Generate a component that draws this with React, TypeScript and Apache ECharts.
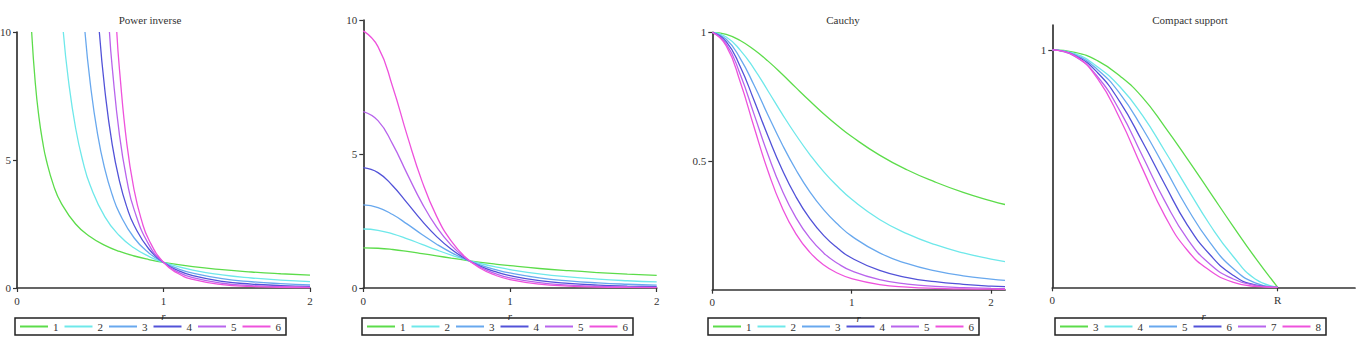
import React, { useEffect, useRef } from "react";
import * as echarts from "echarts";

const FONT = "'Liberation Serif', 'DejaVu Serif', serif";
const COLORS = ["#5cdc4a", "#6ee8ea", "#68a8ee", "#5252d8", "#b864ec", "#ee52dc"];

const names16 = ["1", "2", "3", "4", "5", "6"];
const names38 = ["3", "4", "5", "6", "7", "8"];

// ---- Panel 1: Power inverse ([r, value] pairs) ----
const pw1 = [[0.1, 10], [0.125, 8], [0.15, 6.667], [0.175, 5.714], [0.2, 5], [0.25, 4], [0.3, 3.333], [0.4, 2.5], [0.5, 2], [0.6, 1.667], [0.7, 1.429], [0.8, 1.25], [0.9, 1.111], [1, 1], [1.2, 0.833], [1.4, 0.714], [1.6, 0.625], [1.8, 0.556], [2, 0.5]];
const pw2 = [[0.316, 10], [0.35, 8.163], [0.4, 6.25], [0.45, 4.938], [0.5, 4], [0.6, 2.778], [0.7, 2.041], [0.8, 1.563], [0.9, 1.235], [1, 1], [1.2, 0.694], [1.4, 0.51], [1.6, 0.391], [1.8, 0.309], [2, 0.25]];
const pw3 = [[0.464, 10], [0.5, 8], [0.55, 6.011], [0.6, 4.63], [0.65, 3.641], [0.7, 2.915], [0.8, 1.953], [0.9, 1.372], [1, 1], [1.1, 0.751], [1.2, 0.579], [1.4, 0.364], [1.6, 0.244], [1.8, 0.171], [2, 0.125]];
const pw4 = [[0.562, 10], [0.6, 7.716], [0.65, 5.602], [0.7, 4.165], [0.75, 3.16], [0.8, 2.441], [0.9, 1.524], [1, 1], [1.1, 0.683], [1.2, 0.482], [1.4, 0.26], [1.6, 0.153], [1.8, 0.095], [2, 0.0625]];
const pw5 = [[0.631, 10], [0.65, 8.618], [0.7, 5.95], [0.75, 4.214], [0.8, 3.052], [0.9, 1.694], [1, 1], [1.1, 0.621], [1.2, 0.402], [1.4, 0.186], [1.6, 0.095], [1.8, 0.053], [2, 0.031]];
const pw6 = [[0.681, 10], [0.7, 8.5], [0.75, 5.619], [0.8, 3.815], [0.85, 2.651], [0.9, 1.882], [1, 1], [1.1, 0.564], [1.2, 0.335], [1.4, 0.133], [1.6, 0.06], [1.8, 0.029], [2, 0.0156]];

// ---- Panel 2 (untitled) ----
const r2 = [0, 0.1, 0.2, 0.3, 0.4, 0.5, 0.6, 0.7, 0.8, 0.9, 1, 1.2, 1.4, 1.6, 1.8, 2];
const sm1 = [1.499, 1.483, 1.436, 1.367, 1.286, 1.2, 1.115, 1.034, 0.96, 0.893, 0.832, 0.728, 0.645, 0.577, 0.521, 0.474];
const sm2 = [2.201, 2.154, 2.023, 1.837, 1.628, 1.42, 1.228, 1.059, 0.914, 0.791, 0.688, 0.528, 0.414, 0.332, 0.271, 0.225];
const sm3 = [3.098, 3.001, 2.741, 2.383, 1.997, 1.635, 1.321, 1.062, 0.854, 0.69, 0.561, 0.379, 0.264, 0.19, 0.14, 0.106];
const sm4 = [4.489, 4.304, 3.815, 3.166, 2.504, 1.918, 1.445, 1.081, 0.809, 0.608, 0.462, 0.274, 0.169, 0.109, 0.073, 0.05];
const sm5 = [6.582, 6.245, 5.367, 4.25, 3.167, 2.269, 1.59, 1.106, 0.769, 0.539, 0.381, 0.198, 0.109, 0.063, 0.038, 0.024];
const sm6 = [9.595, 9.008, 7.512, 5.676, 3.988, 2.673, 1.745, 1.128, 0.73, 0.476, 0.314, 0.143, 0.07, 0.036, 0.02, 0.011];

// ---- Panel 3: Cauchy ----
const r3 = [0, 0.1, 0.2, 0.3, 0.4, 0.5, 0.6, 0.7, 0.8, 0.9, 1, 1.2, 1.4, 1.6, 1.8, 2, 2.1];
const ca1 = [1, 0.992, 0.968, 0.932, 0.888, 0.838, 0.785, 0.733, 0.683, 0.637, 0.595, 0.523, 0.465, 0.418, 0.378, 0.345, 0.331];
const ca2 = [1, 0.982, 0.931, 0.858, 0.772, 0.684, 0.601, 0.525, 0.458, 0.401, 0.351, 0.273, 0.217, 0.175, 0.143, 0.119, 0.109];
const ca3 = [1, 0.973, 0.899, 0.794, 0.678, 0.566, 0.466, 0.38, 0.31, 0.254, 0.208, 0.143, 0.101, 0.073, 0.054, 0.041, 0.036];
const ca4 = [1, 0.964, 0.867, 0.735, 0.596, 0.468, 0.361, 0.276, 0.21, 0.161, 0.123, 0.075, 0.047, 0.031, 0.021, 0.014, 0.012];
const ca5 = [1, 0.955, 0.837, 0.681, 0.524, 0.387, 0.28, 0.2, 0.142, 0.102, 0.073, 0.039, 0.022, 0.013, 0.008, 0.005, 0.004];
const ca6 = [1, 0.947, 0.808, 0.631, 0.46, 0.32, 0.217, 0.145, 0.096, 0.064, 0.043, 0.02, 0.01, 0.005, 0.003, 0.002, 0.001];

// ---- Panel 4: Compact support (r in units of R) ----
const r4 = [0, 0.1, 0.2, 0.3, 0.4, 0.5, 0.6, 0.7, 0.8, 0.9, 1];
const cs3 = [1, 0.99, 0.955, 0.89, 0.8, 0.675, 0.54, 0.4, 0.26, 0.125, 0];
const cs4 = [1, 0.984, 0.929, 0.845, 0.724, 0.573, 0.416, 0.2625, 0.133, 0.035, 0];
const cs5 = [1, 0.98, 0.9175, 0.816, 0.67, 0.502, 0.332, 0.188, 0.081, 0.019, 0];
const cs6 = [1, 0.9765, 0.905, 0.781, 0.613, 0.432, 0.261, 0.137, 0.052, 0.01, 0];
const cs7 = [1, 0.973, 0.888, 0.743, 0.553, 0.362, 0.203, 0.097, 0.036, 0.0085, 0];
const cs8 = [1, 0.975, 0.88, 0.71, 0.5, 0.3, 0.155, 0.07, 0.022, 0.004, 0];

const zipXY = (xs: number[], ys: number[]) => xs.map((x, i) => [x, ys[i]]);

const AXIS_COLOR = "#333";
const LABEL_STYLE = { fontSize: 11, color: "#333", fontFamily: FONT };

function buildOption(cfg: any) {
  return {
    animation: false,
    textStyle: { fontFamily: FONT },
    graphic: cfg.title
      ? [
          {
            type: "text",
            x: cfg.titleX,
            y: 20,
            style: {
              text: cfg.title,
              font: `11px ${FONT}`,
              fill: "#333",
              textAlign: "center",
              textVerticalAlign: "middle",
              align: "center",
              verticalAlign: "middle",
            },
          },
        ]
      : [],
    grid: {
      left: cfg.grid[0],
      top: cfg.grid[1],
      width: cfg.grid[2],
      height: cfg.grid[3],
      containLabel: false,
      outerBoundsMode: "none",
    },
    xAxis: {
      type: "value",
      min: cfg.xMin,
      max: cfg.xMax,
      name: "r",
      nameLocation: "middle",
      nameGap: 20,
      nameTextStyle: { ...LABEL_STYLE, fontStyle: "italic" },
      axisLine: { show: true, onZero: false, lineStyle: { color: AXIS_COLOR, width: 1.7 } },
      axisTick: { show: true, length: 4, customValues: cfg.xTicks, lineStyle: { color: AXIS_COLOR, width: 1.2 } },
      axisLabel: { show: true, customValues: cfg.xTicks, formatter: cfg.xFormat, margin: 7, ...LABEL_STYLE },
      splitLine: { show: false },
    },
    yAxis: {
      type: "value",
      min: cfg.yMin,
      max: cfg.yMax,
      axisLine: { show: true, onZero: false, lineStyle: { color: AXIS_COLOR, width: 1.7 } },
      axisTick: { show: true, length: 4, customValues: cfg.yTicks, lineStyle: { color: AXIS_COLOR, width: 1.2 } },
      axisLabel: { show: true, customValues: cfg.yTicks, margin: 6, ...LABEL_STYLE },
      splitLine: { show: false },
    },
    legend: {
      left: cfg.legendLeft,
      top: 318,
      orient: "horizontal",
      data: cfg.names,
      icon: "rect",
      itemWidth: 28,
      itemHeight: 2,
      itemGap: 6,
      padding: [3, 5],
      borderColor: "#222",
      borderWidth: 1.5,
      borderRadius: 0,
      selectedMode: false,
      textStyle: { fontSize: 11, color: "#333", fontFamily: FONT },
    },
    series: cfg.series.map((d: number[][], i: number) => ({
      type: "line",
      name: cfg.names[i],
      data: d,
      smooth: true,
      symbol: "none",
      showSymbol: false,
      clip: true,
      itemStyle: { color: COLORS[i] },
      lineStyle: { color: COLORS[i], width: 1.3 },
    })),
  };
}

const panels = [
  {
    left: 0,
    width: 340,
    cfg: {
      title: "Power inverse",
      titleX: 150,
      grid: [17, 32, 293, 256],
      xMin: 0, xMax: 2, xTicks: [0, 1, 2],
      yMin: 0, yMax: 10, yTicks: [0, 5, 10],
      legendLeft: 15,
      names: names16,
      series: [pw1, pw2, pw3, pw4, pw5, pw6],
    },
  },
  {
    left: 340,
    width: 340,
    cfg: {
      title: "",
      grid: [23.3, 20, 293.4, 268],
      xMin: 0, xMax: 2, xTicks: [0, 1, 2],
      yMin: 0, yMax: 10, yTicks: [0, 5, 10],
      legendLeft: 22,
      names: names16,
      series: [sm1, sm2, sm3, sm4, sm5, sm6].map((v) => zipXY(r2, v)),
    },
  },
  {
    left: 680,
    width: 340,
    cfg: {
      title: "Cauchy",
      titleX: 163,
      grid: [32.3, 32.3, 292.7, 257.4],
      xMin: 0, xMax: 2.1, xTicks: [0, 1, 2],
      yMin: 0, yMax: 1, yTicks: [0.5, 1],
      legendLeft: 28,
      names: names16,
      series: [ca1, ca2, ca3, ca4, ca5, ca6].map((v) => zipXY(r3, v)),
    },
  },
  {
    left: 1020,
    width: 337,
    cfg: {
      title: "Compact support",
      titleX: 170,
      grid: [32.3, 25, 302.7, 262.3],
      xMin: 0, xMax: 1.343, xTicks: [0, 1],
      xFormat: (v: number) => (v === 1 ? "R" : String(v)),
      yMin: 0, yMax: 1.105, yTicks: [1],
      legendLeft: 35,
      names: names38,
      series: [cs3, cs4, cs5, cs6, cs7, cs8].map((v) => zipXY(r4, v)),
    },
  },
];

function Panel({ left, width, cfg }: any) {
  const ref = useRef<HTMLDivElement>(null);
  useEffect(() => {
    if (!ref.current) return;
    const chart = echarts.init(ref.current, null, { renderer: "svg" });
    chart.setOption(buildOption(cfg));
    return () => chart.dispose();
  }, []);
  return (
    <div
      ref={ref}
      style={{ position: "absolute", left, top: 0, width, height: 347 }}
    />
  );
}

export default function App() {
  return (
    <div
      style={{
        position: "absolute",
        left: 0,
        top: 0,
        width: 1357,
        height: 347,
        background: "#fff",
        overflow: "hidden",
      }}
    >
      {panels.map((p, i) => (
        <Panel key={i} left={p.left} width={p.width} cfg={p.cfg} />
      ))}
    </div>
  );
}
